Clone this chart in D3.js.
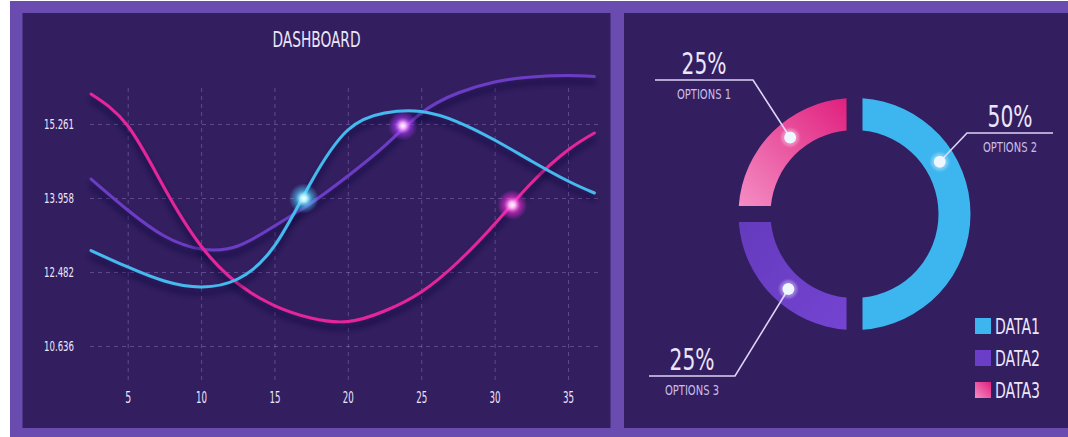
<!DOCTYPE html>
<html>
<head>
<meta charset="utf-8">
<script src="https://cdn.jsdelivr.net/npm/d3@7"></script>
<style>
  html, body { margin: 0; padding: 0; background: #ffffff; }
  svg { display: block; }
  text { font-family: 'Liberation Sans Narrow', 'DejaVu Sans Condensed', 'Roboto Condensed', Roboto, sans-serif; font-stretch: condensed; }
</style>
</head>
<body>
<svg id="chart" width="1068" height="437"></svg>
<script>
// ---------------- DATA ----------------
const chartTitle = "DASHBOARD";
const xTicks = [5, 10, 15, 20, 25, 30, 35];
const yTicks = [10.636, 12.482, 13.958, 15.261];
const yTickLabels = ["10.636", "12.482", "13.958", "15.261"];

const xValues = [2.5, 5, 7.5, 10, 12.5, 15, 17.5, 20, 22.5, 25, 27.5, 30, 32.5, 35, 36.8];
const pinkValues   = [15.789, 15.230, 14.134, 13.001, 12.195, 11.646, 11.334, 11.247, 11.509, 11.983, 12.681, 13.439, 14.222, 14.803, 15.103];
const purpleValues = [14.293, 13.719, 13.200, 12.941, 13.001, 13.400, 13.858, 14.345, 14.874, 15.455, 15.807, 16.001, 16.089, 16.115, 16.097];
const cyanValues   = [12.911, 12.582, 12.257, 12.108, 12.307, 13.001, 14.240, 15.155, 15.455, 15.481, 15.296, 14.979, 14.610, 14.257, 14.046];

const glowX = [17, 23.75, 31.2];
const glowY = [13.95, 15.23, 13.82];

const donutLabels = ["DATA1", "DATA2", "DATA3"];
const donutValues = [50, 25, 25];
const donutOptions = ["OPTIONS 2", "OPTIONS 3", "OPTIONS 1"];

// ---------------- STYLE / LAYOUT ----------------
const C = {
  frame: "#6a4cb0", panel: "#331e60", grid: "rgba(165,145,220,0.38)", text: "#ece6fb",
  pink: "#e4259a", purple: "#6b3cc4", cyan: "#45baef",
  dCyan: "#3db6ef", dPurple: "#6a3ec6"
};
const svg = d3.select("#chart");
const defs = svg.append("defs");

// frame and panels
svg.append("rect").attr("x", 10).attr("y", 1).attr("width", 1058).attr("height", 436).attr("fill", C.frame);
svg.append("rect").attr("x", 22.5).attr("y", 13).attr("width", 588).attr("height", 415).attr("fill", C.panel);
svg.append("rect").attr("x", 624).attr("y", 13).attr("width", 444).attr("height", 415).attr("fill", C.panel);

// filters
const sh = defs.append("filter").attr("id", "shadow").attr("x", "-10%").attr("y", "-20%").attr("width", "120%").attr("height", "150%");
sh.append("feDropShadow").attr("dx", 0).attr("dy", 6).attr("stdDeviation", 3).attr("flood-color", "#170a33").attr("flood-opacity", 0.75);

const glowBlur = defs.append("filter").attr("id", "soft").attr("x", "-50%").attr("y", "-50%").attr("width", "200%").attr("height", "200%");
glowBlur.append("feGaussianBlur").attr("stdDeviation", 1.2);

function radial(id, inner, outer) {
  const g = defs.append("radialGradient").attr("id", id);
  g.append("stop").attr("offset", "0%").attr("stop-color", "#ffffff").attr("stop-opacity", 1);
  g.append("stop").attr("offset", "22%").attr("stop-color", inner).attr("stop-opacity", 1);
  g.append("stop").attr("offset", "55%").attr("stop-color", outer).attr("stop-opacity", 0.55);
  g.append("stop").attr("offset", "100%").attr("stop-color", outer).attr("stop-opacity", 0);
}
radial("gCyan", "#aef2ff", "#4fd0ff");
radial("gPurple", "#f0a8ff", "#b23cff");
radial("gPink", "#ffb0f4", "#ff2fe0");

// ---------------- LINE CHART ----------------
const x = d3.scaleLinear().domain([5, 35]).range([127.7, 568]);
const y = d3.scaleLinear().domain(yTicks).range([346, 272, 198, 124]);

const fontFit = (sel, w) => sel.attr("textLength", w).attr("lengthAdjust", "spacingAndGlyphs");

// y grid + labels
const yAxis = d3.axisLeft(y).tickValues(yTicks).tickSize(-510).tickPadding(16)
  .tickFormat((d, i) => yTickLabels[i]);
const gy = svg.append("g").attr("transform", "translate(90,0)").call(yAxis);
gy.select(".domain").remove();
gy.selectAll("line").attr("stroke", C.grid).attr("stroke-dasharray", "4,4").attr("stroke-width", 1);
gy.selectAll("text").attr("fill", C.text).attr("font-size", 14).call(s => fontFit(s, 30));

// x grid + labels
const xAxis = d3.axisBottom(x).tickValues(xTicks).tickSize(-295).tickPadding(12);
const gx = svg.append("g").attr("transform", "translate(0,380)").call(xAxis);
gx.select(".domain").remove();
gx.selectAll("line").attr("stroke", C.grid).attr("stroke-dasharray", "4,4").attr("stroke-width", 1);
gx.selectAll("text").attr("fill", C.text).attr("font-size", 15)
  .each(function(d) { fontFit(d3.select(this), String(d).length > 1 ? 11 : 6); });

// title
svg.append("text").attr("x", 316.5).attr("y", 47).attr("text-anchor", "middle")
  .attr("fill", C.text).attr("font-size", 21).text(chartTitle).call(s => fontFit(s, 88));

const line = d3.line().x((d, i) => x(xValues[i])).y(d => y(d)).curve(d3.curveNatural);
const series = [
  { v: purpleValues, c: C.purple },
  { v: pinkValues, c: C.pink },
  { v: cyanValues, c: C.cyan }
];
const gl = svg.append("g");
series.forEach(s => {
  gl.append("path").attr("d", line(s.v)).attr("fill", "none").attr("stroke", s.c)
    .attr("stroke-width", 3).attr("stroke-linecap", "round").attr("filter", "url(#shadow)");
});

// glow points
const glowIds = ["gCyan", "gPurple", "gPink"];
glowX.forEach((gxv, i) => {
  svg.append("circle").attr("cx", x(gxv)).attr("cy", y(glowY[i])).attr("r", 15)
    .attr("fill", `url(#${glowIds[i]})`);
});

// ---------------- DONUT ----------------
const cx = 854.5, cy = 214;
const dg = svg.append("g").attr("transform", `translate(${cx},${cy})`);

const pg = defs.append("linearGradient").attr("id", "pinkGrad").attr("x1", "0").attr("y1", "1").attr("x2", "1").attr("y2", "0");
pg.append("stop").attr("offset", "0%").attr("stop-color", "#f48dc4");
pg.append("stop").attr("offset", "100%").attr("stop-color", "#e0207e");
const ppg = defs.append("linearGradient").attr("id", "purpGrad").attr("x1", "0").attr("y1", "0").attr("x2", "1").attr("y2", "1");
ppg.append("stop").attr("offset", "0%").attr("stop-color", "#653bbd");
ppg.append("stop").attr("offset", "100%").attr("stop-color", "#7444d2");

const donutFill = [C.dCyan, "url(#purpGrad)", "url(#pinkGrad)"];
const pie = d3.pie().sort(null).value(d => d);
const arcs = pie(donutValues);
const arc = d3.arc().innerRadius(84).outerRadius(116).padRadius(100).padAngle(0.16);
dg.selectAll("path.seg").data(arcs).join("path").attr("class", "seg")
  .attr("d", arc).attr("fill", (d, i) => donutFill[i]);

// leader lines (positions relative to donut centre)
const dotFrac = [0.325, 0.46, 0.555];
const elbows = [[112.5, -81], [-119.5, 162], [-101.5, -134]];
const ends = [198.5, -205.5, -199.5];
arcs.forEach((a, i) => {
  const ang = a.startAngle + (a.endAngle - a.startAngle) * dotFrac[i];
  const px = 100 * Math.sin(ang), py = -100 * Math.cos(ang);
  const [ex, ey] = elbows[i];
  dg.append("polyline").attr("points", `${px},${py} ${ex},${ey} ${ends[i]},${ey}`)
    .attr("fill", "none").attr("stroke", "#ddd4f6").attr("stroke-width", 1.6);
  dg.append("circle").attr("cx", px).attr("cy", py).attr("r", 9).attr("fill", "#ffffff").attr("opacity", 0.3).attr("filter", "url(#soft)");
  dg.append("circle").attr("cx", px).attr("cy", py).attr("r", 6).attr("fill", "#eef6ff");
  const mid = (ex + ends[i]) / 2;
  dg.append("text").attr("x", mid).attr("y", ey - 6).attr("text-anchor", "middle")
    .attr("fill", C.text).attr("font-size", 31).text(donutValues[i] + "%").call(s => fontFit(s, 45));
  dg.append("text").attr("x", mid).attr("y", ey + 19).attr("text-anchor", "middle")
    .attr("fill", "#c9bfe6").attr("font-size", 14).text(donutOptions[i]).call(s => fontFit(s, 54));
});

// legend
const legFill = [C.dCyan, C.dPurple, "url(#pinkGrad)"];
donutLabels.forEach((lab, i) => {
  const yy = 318 + i * 32;
  svg.append("rect").attr("x", 975).attr("y", yy).attr("width", 16).attr("height", 16).attr("fill", legFill[i]);
  svg.append("text").attr("x", 995).attr("y", yy + 15.5).attr("fill", C.text)
    .attr("font-size", 21).text(lab).call(s => fontFit(s, 45));
});
</script>
</body>
</html>
